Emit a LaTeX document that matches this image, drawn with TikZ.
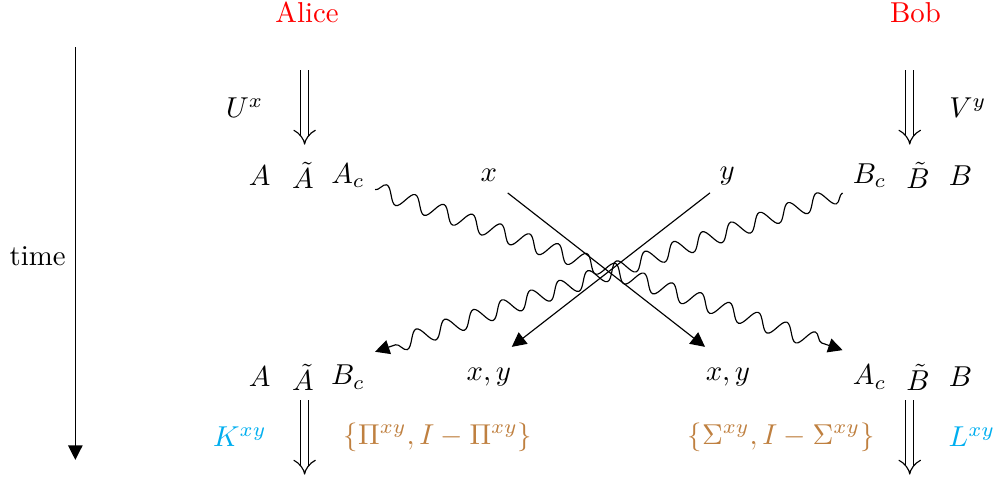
\documentclass[tikz,border=0pt]{standalone}
\usepackage{amsmath, amssymb}
\usepackage{xcolor}
\usetikzlibrary{arrows.meta, decorations.pathmorphing}
\definecolor{party-red}{HTML}{FF0000}
\definecolor{op-cyan}{HTML}{00AEEF}
\definecolor{meas-brown}{HTML}{BF8040}
\begin{document}
\begin{tikzpicture}[
      every node/.style={font=\normalsize, inner sep=1pt},
      unitary/.style={draw, thin, double, double distance=2.4pt, -{Implies[length=5pt]}},
      channel/.style={draw, -{Triangle[length=5pt, width=5pt]}},
      quantum/.style={draw, decorate, decoration={snake, amplitude=2.9pt,
                      segment length=10.5pt, post length=1.5mm},
                      -{Triangle[length=5pt, width=5pt]}}]
    \useasboundingbox (0,0) rectangle (12.2,5.836);

    % parties
    \node[text=party-red] (alice) at (3.75,5.68) {Alice};
    \node[text=party-red] (bob) at (11.18,5.68) {Bob};

    % time axis
    \coordinate (tstart) at (0.92,5.26);
    \coordinate (tend) at (0.92,0.22);
    \draw[-{Triangle[length=5pt, width=5pt]}] (tstart) -- (tend);
    \node (time) at (0.46,2.71) {time};

    % local unitaries (top)
    \coordinate (uA1) at (3.72,4.98);
    \coordinate (uA2) at (3.72,4.07);
    \coordinate (uB1) at (11.11,4.98);
    \coordinate (uB2) at (11.11,4.07);
    \draw[unitary] (uA1) -- (uA2);
    \draw[unitary] (uB1) -- (uB2);
    \node (Ux) at (2.99,4.52) {$U^x$};
    \node (Vy) at (11.82,4.52) {$V^y$};

    % systems before communication
    \node (aTop) at (3.17,3.69) {$A$};
    \node (atTop) at (3.70,3.69) {$\tilde{A}$};
    \node (acTop) at (4.25,3.69) {$A_c$};
    \node (xTop) at (5.97,3.69) {$x$};
    \node (yTop) at (8.88,3.69) {$y$};
    \node (bcTop) at (10.62,3.69) {$B_c$};
    \node (btTop) at (11.21,3.69) {$\tilde{B}$};
    \node (bTop) at (11.73,3.69) {$B$};

    % systems after communication
    \node (aBot) at (3.17,1.23) {$A$};
    \node (atBot) at (3.70,1.23) {$\tilde{A}$};
    \node (bcBot) at (4.25,1.23) {$B_c$};
    \node (xyL) at (5.97,1.23) {$x,y$};
    \node (xyR) at (8.89,1.23) {$x,y$};
    \node (acBot) at (10.62,1.23) {$A_c$};
    \node (btBot) at (11.21,1.23) {$\tilde{B}$};
    \node (bBot) at (11.73,1.23) {$B$};

    % classical inputs crossing over
    \coordinate (xOut) at (6.20,3.48);
    \coordinate (xIn) at (8.61,1.60);
    \coordinate (yOut) at (8.67,3.48);
    \coordinate (yIn) at (6.25,1.60);
    \draw[channel] (xOut) -- (xIn);
    \draw[channel] (yOut) -- (yIn);

    % quantum registers crossing over
    \coordinate (acOut) at (4.58,3.52);
    \coordinate (acIn) at (10.29,1.56);
    \coordinate (bcOut) at (10.29,3.48);
    \coordinate (bcIn) at (4.58,1.54);
    \draw[quantum] (acOut) -- (acIn);
    \draw[quantum] (bcOut) -- (bcIn);

    % final operations and measurements (bottom)
    \coordinate (kA1) at (3.72,0.95);
    \coordinate (kA2) at (3.72,0.04);
    \coordinate (lB1) at (11.11,0.95);
    \coordinate (lB2) at (11.11,0.04);
    \draw[unitary] (kA1) -- (kA2);
    \draw[unitary] (lB1) -- (lB2);
    \node[text=op-cyan] (Kxy) at (2.93,0.50) {$K^{xy}$};
    \node[text=op-cyan] (Lxy) at (11.87,0.50) {$L^{xy}$};
    \node[text=meas-brown] (Pixy) at (5.35,0.50) {$\{\Pi^{xy}, I-\Pi^{xy}\}$};
    \node[text=meas-brown] (Sigxy) at (9.54,0.50) {$\{\Sigma^{xy}, I-\Sigma^{xy}\}$};
\end{tikzpicture}
\end{document}
